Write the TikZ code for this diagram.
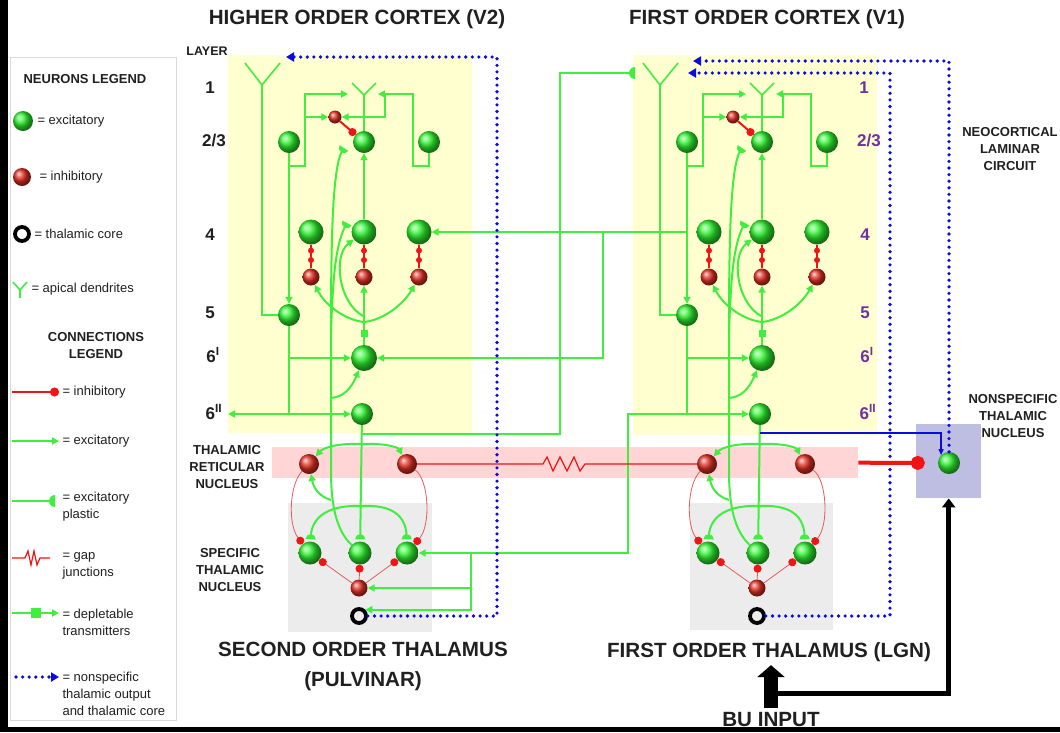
\documentclass[tikz,border=0pt]{standalone}
\usepackage{fontspec}
\setmainfont{Liberation Sans}
\usetikzlibrary{arrows.meta, positioning, calc}

\definecolor{lgreen}{RGB}{64,238,64}
\definecolor{ngreen}{RGB}{45,245,45}
\definecolor{nred}{RGB}{228,48,36}
\definecolor{lred}{RGB}{240,20,20}
\definecolor{tred}{RGB}{228,92,92}
\definecolor{nblue}{RGB}{10,10,225}
\definecolor{ylw}{RGB}{255,255,208}
\definecolor{pnk}{RGB}{255,213,213}
\definecolor{gry}{RGB}{236,236,236}
\definecolor{lav}{RGB}{190,190,226}
\definecolor{purp}{RGB}{112,48,160}
\definecolor{tdark}{RGB}{32,32,32}

% plastic synapse: half disc, flat side towards the target
\pgfdeclarearrow{
  name = Plastic,
  defaults = {length = 5pt},
  parameters = {\the\pgfarrowlength},
  setup code = {
    \pgfarrowssettipend{0pt}
    \pgfarrowssetlineend{-.5\pgfarrowlength}
    \pgfarrowssetvisualbackend{-\pgfarrowlength}
    \pgfarrowssetbackend{-\pgfarrowlength}
    \pgfarrowssavethe\pgfarrowlength
  },
  drawing code = {
    \pgfpathmoveto{\pgfqpoint{0pt}{-\pgfarrowlength}}
    \pgfpatharc{-90}{-270}{\pgfarrowlength}
    \pgfpathclose
    \pgfusepathqfill
  }
}

% one laminar circuit (cortex + thalamus), names prefixed by #1
\newcommand\lamcircuit[1]{%
  % apical dendrites
  \coordinate (#1yb) at (262,85);
  \coordinate (#1ys) at (364,95);
  \draw[dend] (245,63) -- (#1yb) -- (280,63);
  \draw[dend] (352,83) -- (#1ys) -- (376,83);
  % neurons
  \node[exn] (#1l23a) at (289,142) {};
  \node[exn] (#1l23b) at (364,142) {};
  \node[exn] (#1l23c) at (429,142) {};
  \node[inn, minimum size=13pt] (#1int) at (335,117) {};
  \foreach \k/\x in {a/311,b/364,c/419}{
    \node[exn, minimum size=25pt] (#1l4\k) at (\x,232) {};
    \node[inn] (#1l4i\k) at (\x,277) {};
  }
  \node[exn] (#1l5) at (289,315) {};
  \node[exn, minimum size=26pt] (#1l6a) at (364,358) {};
  \node[exn] (#1l6b) at (362,414) {};
  \node[inn, minimum size=20pt] (#1trna) at (309,464) {};
  \node[inn, minimum size=20pt] (#1trnb) at (407,464) {};
  \node[exn, minimum size=23pt] (#1tha) at (310,553) {};
  \node[exn, minimum size=23pt] (#1thb) at (360,553) {};
  \node[exn, minimum size=23pt] (#1thc) at (407,553) {};
  \node[inn] (#1thi) at (359,588) {};
  \node[core] (#1core) at (359,616) {};
  % layers 1 and 2/3
  \draw[dend] (#1ys) -- (#1l23b);
  \draw[dend] (#1yb) |- (#1l5);
  \draw[exc] (#1l23a) -- (#1l5);
  \draw[exc] (289,166) -| (305,94) -- (348,94);
  \draw[exc] (305,117) -- (#1int);
  \draw[exc] (#1l23c) |- (413,166) |- (378,94);
  \draw[exc] (385,94) |- (#1int);
  \draw[inh, draw=lred, line width=2pt, -{Circle[length=8pt]}] (#1int) -- (#1l23b);
  % layer 4
  \draw[exc] (#1l4b) -- (#1l23b);
  \foreach \k in {a,b,c}
    \draw[ichain] (#1l4\k) -- (#1l4i\k) node[cdot, pos=.25] {} node[cdot, pos=.65] {};
  % layer 6I to layer 4
  \coordinate (#1fork) at (364,322);
  \draw[exc] (#1l6a) -- (#1l4ib);
  \node[sq] (#1dep) at (364,333) {};
  \draw[exc] (#1fork) .. controls (345,320) and (325,305) .. (#1l4ia);
  \draw[exc] (#1fork) .. controls (383,320) and (403,305) .. (#1l4ic);
  \draw[exc] (363,316) .. controls (338,302) and (333,255) .. (#1l4b);
  % layer 5 to layer 6
  \draw[wire] (#1l5) -- (289,414);
  \draw[exc] (289,358) -- (#1l6a);
  \draw[exc] (289,414) -- (#1l6b);
  % specific thalamus to cortex
  \draw[wire] (#1thb) .. controls (336,530) and (331,505) .. (331,470) -- (331,330);
  \draw[pla] (331,330) .. controls (331,230) and (333,165) .. (344,148);
  \draw[pla] (331,330) .. controls (333,280) and (335,245) .. (347,223);
  \draw[exc] (331,398) .. controls (343,397) and (351,389) .. (#1l6a);
  \draw[exc] (331,500) .. controls (321,497) and (314,490) .. (#1trna);
  % layer 6II to thalamus
  \draw[pla, shorten >=2pt] (#1l6b) -- (#1thb);
  \draw[exc] (362,444) .. controls (340,443) and (324,447) .. (#1trna);
  \draw[exc] (362,444) .. controls (384,443) and (398,447) .. (#1trnb);
  \draw[pla, shorten >=2pt] (362,506) .. controls (340,505) and (312,510) .. (#1tha);
  \draw[pla, shorten >=2pt] (362,506) .. controls (384,505) and (406,510) .. (#1thc);
  % reticular and interneuron inhibition
  \draw[inh] (#1trna) .. controls (289,485) and (288,525) .. (#1tha);
  \draw[inh] (#1trnb) .. controls (429,480) and (431,525) .. (#1thc);
  \foreach \k in {a,b,c}
    \draw[inh] (#1thi) -- (#1th\k);
}

\begin{document}
\begin{tikzpicture}[
  x=1pt, y=-1pt,
  every node/.style={text=tdark},
  panel/.style={rectangle, anchor=north west, inner sep=0pt},
  exn/.style={circle, ball color=ngreen, minimum size=22pt, inner sep=0pt},
  inn/.style={circle, ball color=nred, minimum size=17pt, inner sep=0pt},
  core/.style={circle, draw=black, line width=3.8pt, minimum size=14pt, inner sep=0pt},
  dend/.style={draw=lgreen, line width=1.6pt},
  wire/.style={draw=lgreen, line width=2pt},
  exc/.style={wire, -{Triangle[length=7pt, width=7pt]}},
  pla/.style={wire, -{Plastic[length=5.2pt]}},
  sq/.style={rectangle, fill=lgreen, minimum size=7pt, inner sep=0pt},
  inh/.style={draw=tred, line width=0.8pt, -{Circle[length=8pt, color=lred]}},
  ichain/.style={draw=lred, line width=2.4pt},
  cdot/.style={circle, fill=lred, minimum size=6pt, inner sep=0pt},
  nsp/.style={draw=nblue, line width=3.6pt, line cap=round, dash pattern=on 0pt off 6.6pt,
              -{Triangle[length=8pt, width=9pt]}},
  nst/.style={draw=nblue, line width=1.3pt, -{Triangle[length=6pt, width=5pt]}},
  ttl/.style={font=\bfseries\fontsize{20.6}{30}\selectfont, align=center},
  side/.style={font=\bfseries\fontsize{13}{17}\selectfont, align=center},
  lnum/.style={font=\bfseries\fontsize{17}{19}\selectfont},
  lgh/.style={font=\bfseries\fontsize{13}{17}\selectfont, align=center},
  lgt/.style={font=\fontsize{13}{17}\selectfont, anchor=west, align=left},
]
\useasboundingbox (0,0) rectangle (1060,732);
\fill[white] (0,0) rectangle (1060,732);
\fill[black] (0,0) rectangle (8,732);
\fill[black] (0,727) rectangle (1060,732);

% background panels
\node[panel, fill=ylw, minimum width=244, minimum height=378] (v2box) at (228,55) {};
\node[panel, fill=ylw, minimum width=244, minimum height=380] (v1box) at (633,55) {};
\node[panel, fill=pnk, minimum width=586, minimum height=31] (trnband) at (272,447) {};
\node[panel, fill=gry, minimum width=144, minimum height=129] (pulbox) at (288,503) {};
\node[panel, fill=gry, minimum width=143, minimum height=127] (lgnbox) at (690,503) {};
\node[panel, fill=lav, minimum width=65, minimum height=74] (nsbox) at (916,424) {};

% the two circuits
\lamcircuit{hi}
\begin{scope}[xshift=398pt]
  \lamcircuit{fo}
\end{scope}
\node[exn] (fons) at (949,463) {};

% V1 -> V2
\draw[exc] (687,232) -- (hil4c);
\draw[exc] (603,232) |- (hil6a);
% V2 -> V1 layer 1
\coordinate (fol1) at (635,73);
\draw[pla, -{Plastic[length=6pt]}] (362,434) -| (560,73) -- (fol1);
% V1 layer 5 -> pulvinar
\draw[exc] (687,414) -| (628,553) -- (hithc);
\draw[exc] (471,553) |- (hithi);
\draw[exc] (471,588) |- (hicore.north east);
\draw[exc] (289,414) -- (228,414);

% nonspecific thalamic output and thalamic core
\draw[nsp] (hicore) -| (497,57) -- (286,57);
\draw[nsp] (focore) -| (890,73) -- (688,73);
\draw[nsp] (fons) -- (949,61) -- (693,61);
\draw[nst] (760,433) -| (fons.north west);

% gap junction and reticular inhibition
\draw[lred, line width=1.2pt] (hitrnb) -- (543,464) -- (547,457) -- (553,471) -- (560,457)
  -- (567,471) -- (574,457) -- (580,471) -- (585,464) -- (fotrna);
\draw[lred, line width=4pt, -{Circle[length=14pt]}, shorten >=13pt] (trnband.east) -- (fons);

% titles and labels
\node[ttl] (v2t) at (357,19) {HIGHER ORDER CORTEX (V2)};
\node[ttl] (v1t) at (767,19) {FIRST ORDER CORTEX (V1)};
\node[ttl] (pulv) at (363,666) {SECOND ORDER THALAMUS\\(PULVINAR)};
\node[ttl] (lgn) at (769,652) {FIRST ORDER THALAMUS (LGN)};
\node[ttl] (bu) at (771,719) {BU INPUT};
\draw[black, line width=14pt, -{Triangle[length=12pt, width=27pt]}] (bu.north) -- (bu.north |- lgn.south);
\draw[black, line width=5pt, -{Triangle[length=9pt, width=13pt]}] (777,693) -| (nsbox);

\node[side] (trnl) at (227,467) {THALAMIC\\RETICULAR\\NUCLEUS};
\node[side] (stnl) at (230,570) {SPECIFIC\\THALAMIC\\NUCLEUS};
\node[side] (ncl) at (1010,149) {NEOCORTICAL\\LAMINAR\\CIRCUIT};
\node[side] (nstl) at (1013,416) {NONSPECIFIC\\THALAMIC\\NUCLEUS};

\node[side, font=\bfseries\fontsize{12.5}{14}\selectfont] (layer) at (207,51) {LAYER};
\node[lnum] (hi1) at (210,88) {1};
\node[lnum] (hi23) at (214,141) {2/3};
\node[lnum] (hi4) at (210,235) {4};
\node[lnum] (hi5) at (210,313) {5};
\node[lnum] (hi6a) at (213,355) {6\textsuperscript{I}};
\node[lnum] (hi6b) at (214,412) {6\textsuperscript{II}};
\node[lnum, text=purp] (fo1) at (864,88) {1};
\node[lnum, text=purp] (fo23) at (869,141) {2/3};
\node[lnum, text=purp] (fo4) at (865,235) {4};
\node[lnum, text=purp] (fo5) at (865,313) {5};
\node[lnum, text=purp] (fo6a) at (867,355) {6\textsuperscript{I}};
\node[lnum, text=purp] (fo6b) at (868,412) {6\textsuperscript{II}};

% legend
\draw[gray!30] (10,57) rectangle (176,720);
\node[lgh] (nleg) at (85,79) {NEURONS LEGEND};
\node[exn, minimum size=20pt] (lgexn) at (23,121) {};
\node[lgt] (lgexnt) at (34,121) {= excitatory};
\node[inn, minimum size=18pt] (lginn) at (22,177) {};
\node[lgt] (lginnt) at (36,177) {= inhibitory};
\node[core] (lgcore) at (22,234) {};
\node[lgt] (lgcoret) at (31,234) {= thalamic core};
\coordinate (lgy) at (20,290);
\draw[dend] (13,282) -- (lgy) -- (27,282) (lgy) -- (20,298);
\node[lgt] (lgyt) at (28,289) {= apical dendrites};
\node[lgh] (cleg) at (96,346) {CONNECTIONS\\LEGEND};

\node[lgt] (lcinh) at (59,392) {= inhibitory};
\draw[lred, line width=1.6pt, -{Circle[length=9pt]}] (12,392) -- (lcinh.west);
\node[lgt] (lcexc) at (59,441) {= excitatory};
\draw[exc] (12,441) -- (lcexc.west);
\node[lgt] (lcpla) at (59,507) {= excitatory\\plastic};
\draw[pla, -{Plastic[length=6pt]}, shorten >=4pt] (12,501) -- (lcpla.west |- 0,501);
\node[lgt] (lcgap) at (59,566) {= gap\\junctions};
\draw[lred, line width=1.2pt] (12,558) -- (25,558) -- (28,551) -- (31,565) -- (34,551)
  -- (37,565) -- (40,558) -- (50,558);
\node[lgt] (lcdep) at (59,622) {= depletable\\transmitters};
\draw[exc] (12,613) -- (lcdep.west |- 0,613);
\node[sq, minimum size=10pt] (lcsq) at (36,613) {};
\node[lgt] (lcnsp) at (59,694) {= nonspecific\\thalamic output\\and thalamic core};
\draw[nsp] (16,677) -- (lcnsp.west |- 0,677);
\end{tikzpicture}
\end{document}
